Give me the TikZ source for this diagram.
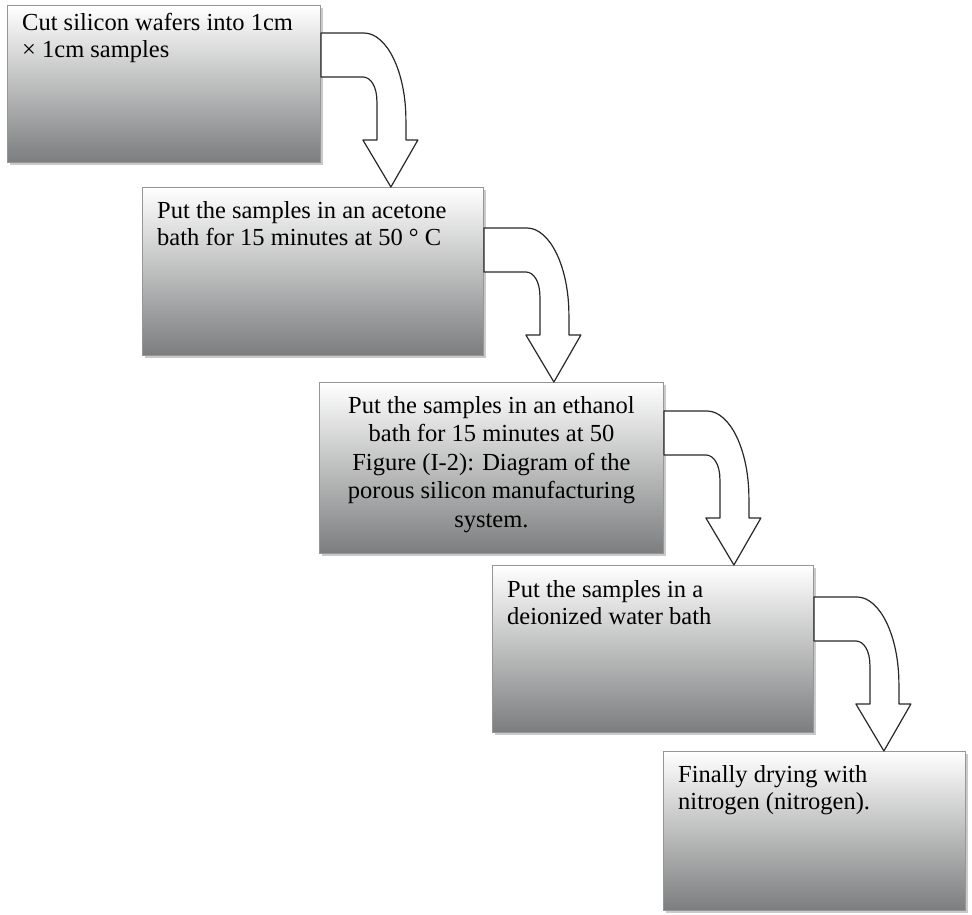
\documentclass[tikz,border=0pt]{standalone}
\usepackage{fontspec}
\setmainfont{Liberation Serif}
\usetikzlibrary{calc,shadows}

\definecolor{boxmid}{RGB}{192,195,197}
\definecolor{boxbot}{RGB}{124,125,126}
\definecolor{boxline}{RGB}{150,150,150}
\definecolor{arrowline}{RGB}{40,40,40}

% hollow bent arrow from the right side of #1 down onto the top of #2
\newcommand{\bentarrow}[2]{%
    \path (#1.north east) ++(70,0) coordinate (#1x);
    \coordinate (#1tip) at (#1x |- #2.north);
    \begin{scope}[shift={(#1tip)}]
        \draw[flowarrow] (-70,-154) -- (-27,-154)
            .. controls (-4,-154) and (15,-115) .. (15,-67)
            -- (15,-47) -- (27,-47) -- (0,0) -- (-28,-47) -- (-14,-47)
            -- (-14,-86) .. controls (-14,-100) and (-20,-110) .. (-28,-110)
            -- (-70,-110) -- cycle;
    \end{scope}
}

\begin{document}
\begin{tikzpicture}[
        x=1pt, y=-1pt,
        every node/.style={font=\fontsize{24.5}{27.5}\selectfont},
        stepbox/.style={draw=boxline, line width=0.9pt, anchor=north west, inner sep=0pt,
            top color=white, middle color=boxmid, bottom color=boxbot,
            drop shadow={shadow xshift=2.5pt, shadow yshift=-2.5pt, opacity=0.35, fill=black!60}},
        steptext/.style={anchor=north west, inner sep=0pt, align=left},
        flowarrow/.style={draw=arrowline, line width=1.2pt, fill=white, line join=round}
    ]
    \useasboundingbox (0,0) rectangle (972,915);

    % Boxes
    \node[stepbox, minimum width=313, minimum height=157] (b1) at (7,5) {};
    \node[stepbox, minimum width=341, minimum height=168] (b2) at (142,187) {};
    \node[stepbox, minimum width=344, minimum height=171] (b3) at (319,382) {};
    \node[stepbox, minimum width=321, minimum height=167] (b4) at (492,565) {};
    \node[stepbox, minimum width=302, minimum height=159] (b5) at (663,751) {};

    % Texts
    \node[steptext] (t1) at ([shift={(15,8)}]b1.north west)
        {Cut silicon wafers into 1cm\\× 1cm samples};
    \node[steptext] (t2) at ([shift={(15,14)}]b2.north west)
        {Put the samples in an acetone\\bath for 15 minutes at 50 ° C};
    \node[steptext, anchor=north, align=center, font=\fontsize{24.5}{28.5}\selectfont] (t3)
        at ([shift={(0,14)}]b3.north)
        {Put the samples in an ethanol\\bath for 15 minutes at 50\\Figure (I-2): Diagram of the\\porous silicon manufacturing\\system.};
    \node[steptext] (t4) at ([shift={(15,15)}]b4.north west)
        {Put the samples in a\\deionized water bath};
    \node[steptext] (t5) at ([shift={(15,14)}]b5.north west)
        {Finally drying with\\nitrogen (nitrogen).};

    % Arrows
    \bentarrow{b1}{b2}
    \bentarrow{b2}{b3}
    \bentarrow{b3}{b4}
    \bentarrow{b4}{b5}

\end{tikzpicture}
\end{document}
